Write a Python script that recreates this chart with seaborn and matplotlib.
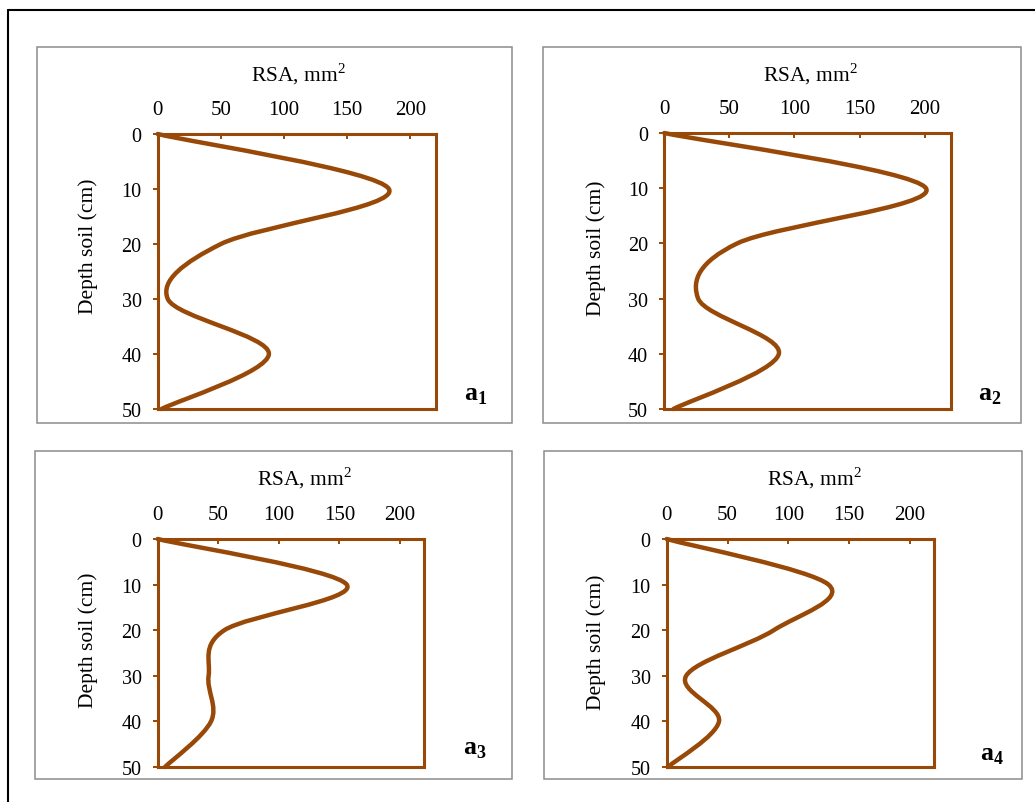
import matplotlib
matplotlib.use('Agg')
import matplotlib.pyplot as plt
from matplotlib.path import Path
from matplotlib.patches import PathPatch, Rectangle
from matplotlib.lines import Line2D
import seaborn as sns
import numpy as np
import pandas as pd

#%% data

depth = [0, 10, 20, 30, 40, 50]
rsa_a1 = [0, 183, 50, 8, 88, 3]
rsa_a2 = [0, 201, 56, 26, 88, 7]
rsa_a3 = [0, 156, 55, 42, 44, 6]
rsa_a4 = [0, 133, 88, 16, 43, 1]

panel_labels = [r'$\mathbf{a}_\mathbf{1}$', r'$\mathbf{a}_\mathbf{2}$',
                r'$\mathbf{a}_\mathbf{3}$', r'$\mathbf{a}_\mathbf{4}$']
x_ticks = [0, 50, 100, 150, 200]
y_ticks = [0, 10, 20, 30, 40, 50]

#%% style

sns.set_theme(style='white')
plt.rcParams['font.family'] = ['Liberation Serif', 'DejaVu Serif']
plt.rcParams['mathtext.fontset'] = 'custom'
plt.rcParams['mathtext.rm'] = 'Liberation Serif'
plt.rcParams['mathtext.bf'] = 'Liberation Serif:bold'
plt.rcParams['text.color'] = 'black'

brown = '#984807'
W, H = 1035, 803


def smooth_path(xs, ys):
    # excel-like smoothed line: bezier segments through the data points
    pts = np.column_stack([xs, ys]).astype(float)
    n = len(pts)
    verts = [pts[0]]
    codes = [Path.MOVETO]
    for i in range(n - 1):
        p0 = pts[max(i - 1, 0)]
        p1 = pts[i]
        p2 = pts[i + 1]
        p3 = pts[min(i + 2, n - 1)]
        verts += [p1 + (p2 - p0) / 6, p2 - (p3 - p1) / 6, p2]
        codes += [Path.CURVE4] * 3
    return Path(verts, codes)


def px_rect(left, top, right, bottom):
    return [left / W, 1 - bottom / H, (right - left) / W, (bottom - top) / H]


fig = plt.figure(figsize=(W / 100, H / 100), dpi=100)
fig.patch.set_facecolor('white')

# outer frame (cut at right / bottom)
fig.add_artist(Line2D([8 / W, 8 / W], [1 - 10.7 / H, 0], color='black', lw=1.5, transform=fig.transFigure))
fig.add_artist(Line2D([8 / W, 1], [1 - 10.7 / H, 1 - 10.7 / H], color='black', lw=1.5, transform=fig.transFigure))

boxes = [(36.7, 47.7, 511.7, 424), (542.7, 47.7, 1020.7, 424),
         (35.3, 451.7, 511.7, 780), (544, 451.7, 1022, 780)]
for b in boxes:
    r = px_rect(*b)
    fig.add_artist(Rectangle((r[0], r[1]), r[2], r[3], transform=fig.transFigure,
                             fill=False, edgecolor='#8c8c8c', lw=1.1))

axes_pos = [(157.7, 135, 435.7, 410), (664.3, 134, 950.7, 410),
            (157.7, 540, 424.3, 768), (666.7, 540, 934.3, 768)]
series = [rsa_a1, rsa_a2, rsa_a3, rsa_a4]
xlabel_pos = [(298, 74), (810, 74), (304, 478), (814, 478)]
ylabel_pos = [(88, 246), (596, 248), (88, 640), (596, 642)]
tag_pos = [(476, 396), (990, 396), (475, 750), (992, 756)]

for k in range(4):
    ax = fig.add_axes(px_rect(*axes_pos[k]))
    ax.set_facecolor('white')
    ax.grid(False)
    ax.set_xlim(0, 220)
    ax.set_ylim(50, 0)
    ax.xaxis.tick_top()
    ax.set_xticks(x_ticks)
    ax.set_yticks(y_ticks)
    ax.tick_params(axis='x', direction='in', length=3.4, width=1.4, color=brown,
                   pad=11, labelsize=15, labelcolor='black', top=True, bottom=False)
    ax.tick_params(axis='y', direction='out', length=3.6, width=1.4, color=brown,
                   pad=8, labelsize=14.5, labelcolor='black', left=True)
    for sp in ax.spines.values():
        sp.set_color(brown)
        sp.set_linewidth(2.2)
        sp.set_zorder(3)

    ax.add_patch(PathPatch(smooth_path(series[k], depth), fill=False, edgecolor=brown,
                           lw=3.2, capstyle='round', joinstyle='round', clip_on=False, zorder=2))

    fig.text(xlabel_pos[k][0] / W, 1 - xlabel_pos[k][1] / H, 'RSA, mm$^2$',
             ha='center', va='center', fontsize=15.5)
    fig.text(ylabel_pos[k][0] / W, 1 - ylabel_pos[k][1] / H, 'Depth soil (cm)',
             ha='center', va='center', rotation=90, fontsize=15.5)
    fig.text(tag_pos[k][0] / W, 1 - tag_pos[k][1] / H, panel_labels[k],
             ha='center', va='center', fontsize=18.5)

fig.savefig('out.png', dpi=100)
